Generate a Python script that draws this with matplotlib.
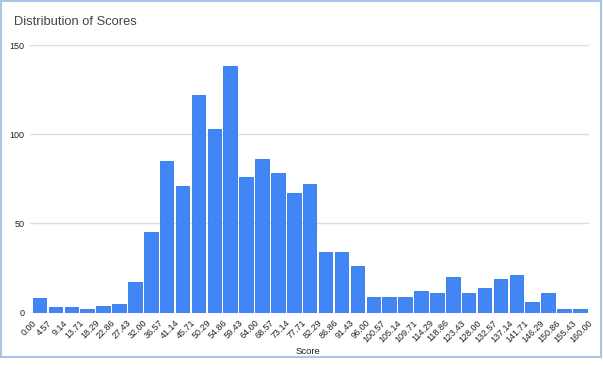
import matplotlib
matplotlib.use('Agg')
from matplotlib import pyplot as plt
from matplotlib.patches import Rectangle
import numpy as np

# histogram bucket edges (labels) and counts per bucket
edge_labels = ['0.00', '4.57', '9.14', '13.71', '18.29', '22.86', '27.43',
	'32.00', '36.57', '41.14', '45.71', '50.29', '54.86', '59.43', '64.00',
	'68.57', '73.14', '77.71', '82.29', '86.86', '91.43', '96.00', '100.57',
	'105.14', '109.71', '114.29', '118.86', '123.43', '128.00', '132.57',
	'137.14', '141.71', '146.29', '150.86', '155.43', '160.00']
counts = [8, 3, 3, 2, 4, 5, 17, 45, 85, 71, 122, 103, 138, 76, 86, 78, 67, 72,
	34, 34, 26, 9, 9, 9, 12, 11, 20, 11, 14, 19, 21, 6, 11, 2, 2]
y_ticks = [0, 50, 100, 150]

plt.rcParams['font.family'] = ['Liberation Sans', 'DejaVu Sans']

edges = np.array([float(s) for s in edge_labels])
w = edges[1] - edges[0]
centers = edges[:-1] + w / 2

fig = plt.figure(figsize=(6.03, 3.65), dpi=100)
ax = fig.add_axes([0.0497, 0.1433, 0.9278, 0.7334])

ax.bar(centers, counts, width=w * 0.85, color='#4285f4', edgecolor='#2f76e8',
	linewidth=0.6, zorder=3)

ax.set_xlim(edges[0] - 0.1 * w, edges[-1] + 0.1 * w)
ax.set_ylim(0, 150)
ax.set_yticks(y_ticks)
ax.set_yticklabels([str(t) for t in y_ticks], fontsize=6.5, color='#222222')
ax.set_xticks(edges)
ax.set_xticklabels(edge_labels, rotation=45, ha='right', rotation_mode='anchor',
	fontsize=6.5, color='#222222')
ax.tick_params(axis='x', length=0, pad=4)
ax.tick_params(axis='y', length=0, pad=4)
ax.grid(axis='y', color='#dcdcdc', linewidth=1, zorder=0)
ax.set_axisbelow(True)
for s in ax.spines.values():
	s.set_visible(False)

fig.text(308 / 603, 1 - 352 / 365, 'Score', fontsize=6.8, color='#222222',
	ha='center', va='center')

fig.text(14 / 603, 1 - 22 / 365, 'Distribution of Scores', fontsize=9.3,
	color='#444444', ha='left', va='center')

# light blue chart frame
fig.patches.append(Rectangle((0.001, 1 - 357 / 365), 601 / 603 - 0.001,
	357 / 365 - 0.002, transform=fig.transFigure, fill=False,
	edgecolor='#a9c6e8', linewidth=1.5))

fig.savefig('out.png', dpi=100)
